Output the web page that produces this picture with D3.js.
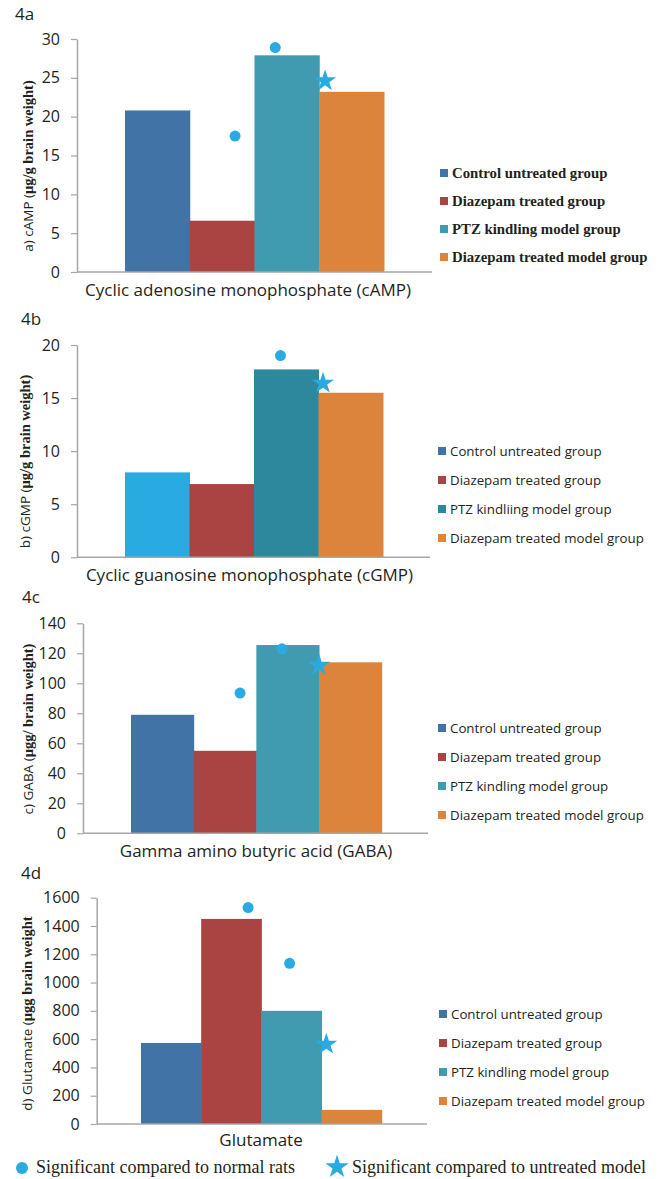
<!DOCTYPE html>
<html>
<head>
<meta charset="utf-8">
<script src="https://cdn.jsdelivr.net/npm/d3@7"></script>
<style>
  body { margin: 0; background: #fff; }
  svg { display: block; }
</style>
</head>
<body>
<svg id="chart" width="662" height="1179"></svg>
<script>
// Groups shown in every panel
const groups = ["Control untreated group", "Diazepam treated group", "PTZ kindling model group", "Diazepam treated model group"];
const groupsB = ["Control untreated group", "Diazepam treated group", "PTZ kindliing model group", "Diazepam treated model group"];

// Mean values per group
const cAMP = [20.8, 6.6, 27.9, 23.2];
const cGMP = [8.0, 6.9, 17.7, 15.5];
const GABA = [79, 55, 125.5, 114];
const glutamate = [573, 1450, 800, 100];

// Significance markers: [position along the bar row (in bar widths), value]
const cAMPDots = [[1.70, 17.5], [2.32, 28.9]];
const cAMPStars = [[3.09, 24.6]];
const cGMPDots = [[2.41, 19.0]];
const cGMPStars = [[3.07, 16.4]];
const GABADots = [[1.74, 93.5], [2.41, 123]];
const GABAStars = [[3.0, 112]];
const glutamateDots = [[1.78, 1530], [2.47, 1136]];
const glutamateStars = [[3.08, 564]];

// Axis ticks
const cAMPTicks = [0, 5, 10, 15, 20, 25, 30];
const cGMPTicks = [0, 5, 10, 15, 20];
const GABATicks = [0, 20, 40, 60, 80, 100, 120, 140];
const glutamateTicks = [0, 200, 400, 600, 800, 1000, 1200, 1400, 1600];

const BLUE = "#4273A7", RED = "#A94442", TEAL = "#419BB0", ORANGE = "#DC843B";
const LIGHTBLUE = "#29ABE2", DARKTEAL = "#2E889D", MARK = "#29ABE2";
const SANS = "'Open Sans', sans-serif";
const SERIF = "'Liberation Serif', 'Times New Roman', serif";
const AXIS = "#A6A6A6";

const svg = d3.select("#chart");

function drawPanel(p) {
  const g = svg.append("g");
  const y = d3.scaleLinear().domain([0, p.yMax]).range([p.y0, p.yTop]);
  const x = d3.scaleBand().domain(d3.range(p.values.length)).range([p.barL, p.barR]).padding(0);
  const xPos = d3.scaleLinear().domain([0, p.values.length]).range([p.barL, p.barR]);

  // bars
  g.selectAll("rect.bar").data(p.values).join("rect")
    .attr("class", "bar")
    .attr("x", (d, i) => x(i))
    .attr("width", x.bandwidth() + 0.5)
    .attr("y", d => y(d))
    .attr("height", d => y(0) - y(d))
    .attr("fill", (d, i) => p.colors[i]);

  // value axis
  const ax = g.append("g")
    .attr("transform", `translate(${p.axisX},0)`)
    .call(d3.axisLeft(y).tickValues(p.ticks).tickSizeInner(6).tickSizeOuter(0).tickPadding(11).tickFormat(d3.format("d")));
  ax.select(".domain").attr("stroke", AXIS).attr("stroke-width", 1.5);
  ax.selectAll(".tick line").attr("stroke", AXIS).attr("stroke-width", 1.2);
  ax.selectAll(".tick text").attr("font-family", SANS).attr("font-size", 16).attr("fill", "#231F20");

  // category axis line
  g.append("line")
    .attr("x1", p.axisX).attr("x2", p.baseR)
    .attr("y1", y(0)).attr("y2", y(0))
    .attr("stroke", AXIS).attr("stroke-width", 1.5);

  // significance markers
  g.selectAll("circle.dot").data(p.dots).join("circle")
    .attr("class", "dot")
    .attr("cx", d => xPos(d[0])).attr("cy", d => y(d[1]))
    .attr("r", 5.5).attr("fill", MARK);
  g.selectAll("path.star").data(p.stars).join("path")
    .attr("class", "star")
    .attr("transform", d => `translate(${xPos(d[0])},${y(d[1])})`)
    .attr("d", d3.symbol(d3.symbolStar, 150))
    .attr("fill", MARK);

  // panel tag
  g.append("text").attr("x", p.tagX).attr("y", p.tagY)
    .attr("font-family", SANS).attr("font-size", 17).attr("fill", "#231F20")
    .text(p.tag);

  // category label
  g.append("text").attr("x", p.catX).attr("y", p.catY)
    .attr("text-anchor", "middle")
    .attr("font-family", SANS).attr("font-size", p.catSize).attr("fill", "#231F20")
    .text(p.category);

  // value axis title (sans prefix, bold serif unit)
  const t = g.append("text")
    .attr("transform", `translate(${p.titleX},${p.titleY}) rotate(-90)`)
    .attr("text-anchor", "middle").attr("fill", "#231F20");
  t.append("tspan").attr("font-family", SANS).attr("font-size", 13.5).text(p.titleA);
  t.append("tspan").attr("font-family", SERIF).attr("font-weight", "bold").attr("font-size", 14.5).text(p.titleB);

  // legend
  const lg = g.append("g");
  const rows = lg.selectAll("g").data(p.legend).join("g")
    .attr("transform", (d, i) => `translate(${p.legX},${p.legY + i * p.legStep})`);
  rows.append("rect").attr("x", 0).attr("y", -4).attr("width", 8).attr("height", 8)
    .attr("fill", (d, i) => p.legColors[i]);
  rows.append("text").attr("x", 12).attr("y", 0).attr("dy", "0.35em")
    .attr("font-family", p.legFont).attr("font-weight", p.legWeight)
    .attr("font-size", p.legSize).attr("fill", "#231F20")
    .text(d => d);
}

drawPanel({
  values: cAMP, dots: cAMPDots, stars: cAMPStars, ticks: cAMPTicks, yMax: 30,
  colors: [BLUE, RED, TEAL, ORANGE],
  axisX: 77, yTop: 39, y0: 272, barL: 125, barR: 384, baseR: 432,
  tag: "4a", tagX: 15, tagY: 20,
  category: "Cyclic adenosine monophosphate (cAMP)", catX: 248, catY: 296, catSize: 17,
  titleA: "a) cAMP (", titleB: "μg/g brain weight)", titleX: 33, titleY: 166,
  legend: groups, legColors: [BLUE, RED, TEAL, ORANGE],
  legX: 440, legY: 173, legStep: 28, legFont: SERIF, legWeight: "bold", legSize: 14.8
});

drawPanel({
  values: cGMP, dots: cGMPDots, stars: cGMPStars, ticks: cGMPTicks, yMax: 20,
  colors: [LIGHTBLUE, RED, DARKTEAL, ORANGE],
  axisX: 77, yTop: 345, y0: 557.3, barL: 125, barR: 383, baseR: 430,
  tag: "4b", tagX: 21, tagY: 325,
  category: "Cyclic guanosine monophosphate (cGMP)", catX: 249.5, catY: 581, catSize: 17,
  titleA: "b) cGMP (", titleB: "μg/g brain weight)", titleX: 30, titleY: 461.5,
  legend: groupsB, legColors: [BLUE, RED, DARKTEAL, ORANGE],
  legX: 438, legY: 451, legStep: 29, legFont: SANS, legWeight: "normal", legSize: 13.3
});

drawPanel({
  values: GABA, dots: GABADots, stars: GABAStars, ticks: GABATicks, yMax: 140,
  colors: [BLUE, RED, TEAL, ORANGE],
  axisX: 83, yTop: 623.3, y0: 833.3, barL: 131, barR: 381.7, baseR: 428,
  tag: "4c", tagX: 22, tagY: 603,
  category: "Gamma amino butyric acid (GABA)", catX: 256, catY: 857, catSize: 17,
  titleA: "c) GABA (", titleB: "μgg/ brain weight)", titleX: 33, titleY: 729,
  legend: groups, legColors: [BLUE, RED, TEAL, ORANGE],
  legX: 438, legY: 728, legStep: 29, legFont: SANS, legWeight: "normal", legSize: 13.3
});

drawPanel({
  values: glutamate, dots: glutamateDots, stars: glutamateStars, ticks: glutamateTicks, yMax: 1600,
  colors: [BLUE, RED, TEAL, ORANGE],
  axisX: 96.7, yTop: 897.7, y0: 1124, barL: 141, barR: 381.7, baseR: 427,
  tag: "4d", tagX: 21, tagY: 879,
  category: "Glutamate", catX: 261, catY: 1146, catSize: 17,
  titleA: "d) Glutamate (", titleB: "μgg brain weight", titleX: 32, titleY: 1013.5,
  legend: groups, legColors: [BLUE, RED, TEAL, ORANGE],
  legX: 439, legY: 1014, legStep: 29, legFont: SANS, legWeight: "normal", legSize: 13.3
});

// significance key
const key = svg.append("g");
key.append("circle").attr("cx", 22).attr("cy", 1168).attr("r", 6).attr("fill", MARK);
key.append("text").attr("x", 36).attr("y", 1173)
  .attr("font-family", SERIF).attr("font-size", 18).attr("fill", "#231F20")
  .text("Significant compared to normal rats");
key.append("path").attr("transform", "translate(337,1167)")
  .attr("d", d3.symbol(d3.symbolStar, 170)).attr("fill", MARK);
key.append("text").attr("x", 352).attr("y", 1173)
  .attr("font-family", SERIF).attr("font-size", 18).attr("fill", "#231F20")
  .text("Significant compared to untreated model");
</script>
</body>
</html>
